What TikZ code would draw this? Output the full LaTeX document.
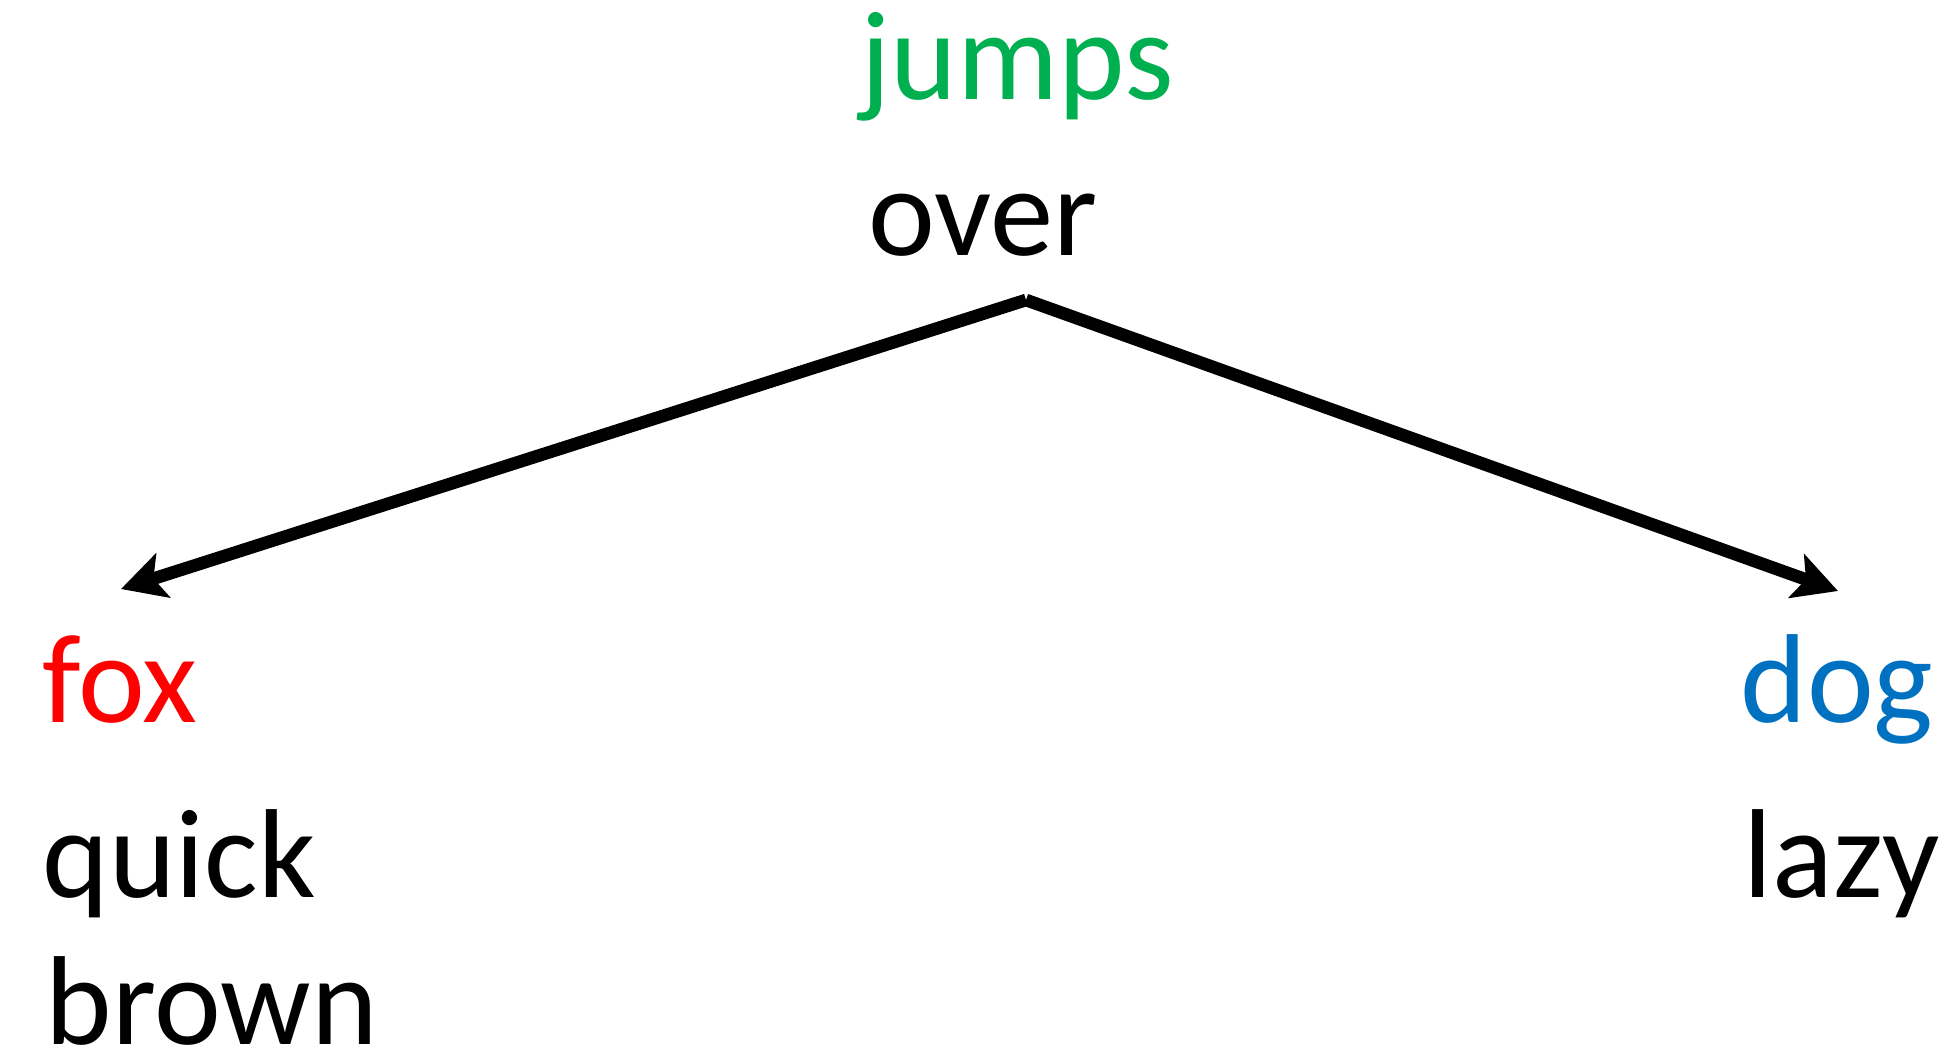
\documentclass[tikz,border=0pt]{standalone}
\usepackage{fontspec}
\setmainfont{Carlito}
\usetikzlibrary{arrows.meta}
\definecolor{wgreen}{HTML}{00B050}
\definecolor{wred}{HTML}{FF0000}
\definecolor{wblue}{HTML}{0070C0}
\begin{document}
\begin{tikzpicture}[x=0.01cm, y=-0.01cm, line join=round,
		>={Stealth[length=0.44cm,width=0.46cm,inset=0.1cm]},
		word/.style={anchor=base west, inner sep=0pt, font=\fontsize{36}{43}\selectfont}]
	\useasboundingbox (0,0) rectangle (1958,1064);
	\node[word, wgreen] (jumps) at (860,100) {jumps};
	\node[word] (over) at (868,256) {over};
	\node[word, wred] (fox) at (42,722) {fox};
	\node[word] (quick) at (42,897) {quick};
	\node[word] (brown) at (45,1044) {brown};
	\node[word, wblue] (dog) at (1740,722) {dog};
	\node[word] (lazy) at (1743,897) {lazy};
	\coordinate (top) at (1026,300);
	\coordinate (foxtip) at (121,589);
	\coordinate (dogtip) at (1838,591);
	\draw[->, line width=3.6pt] (top)--(foxtip);
	\draw[->, line width=3.6pt] (top)--(dogtip);
\end{tikzpicture}
\end{document}
